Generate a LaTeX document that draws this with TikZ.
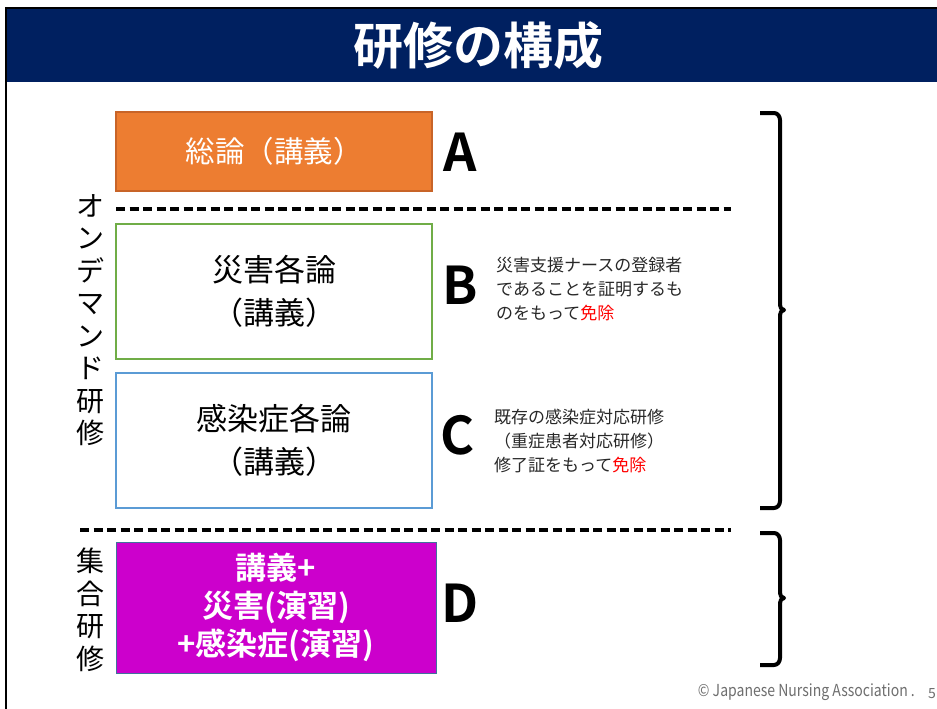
\documentclass[tikz,border=0pt]{standalone}
\usepackage{fontspec}
\setmainfont{Noto Sans CJK JP}[BoldFont={Noto Sans CJK JP Bold}]
\definecolor{navy}{RGB}{0,32,96}
\definecolor{aorange}{RGB}{237,125,49}
\definecolor{aorangeb}{RGB}{200,100,40}
\definecolor{bgreen}{RGB}{112,173,71}
\definecolor{cblue}{RGB}{91,155,213}
\definecolor{dmag}{RGB}{204,0,204}
\definecolor{dborder}{RGB}{65,113,156}
\definecolor{cgray}{RGB}{110,110,110}
\definecolor{sidetext}{RGB}{40,40,40}
\definecolor{mred}{RGB}{255,0,0}
\tikzset{
  box/.style={draw, line width=1.2pt, minimum width=316pt, align=center, inner sep=0pt},
  letter/.style={font=\fontsize{52}{52}\selectfont\bfseries, inner sep=0pt, text=black},
  side/.style={font=\fontsize{17}{24}\selectfont, align=left, anchor=west, inner sep=0pt, text=sidetext},
  vtext/.style={font=\fontsize{28}{32.5}\selectfont, align=center, inner sep=0pt},
  sep/.style={line width=3.5pt, dash pattern=on 9pt off 4.5pt},
  brace/.style={line width=4pt, line join=round},
}
\begin{document}
\begin{tikzpicture}[x=1pt,y=-1pt]
\useasboundingbox (0,0) rectangle (937,709);
\fill[white] (0,0) rectangle (937,709);
% title bar
\fill[navy] (6,9) rectangle (937,82);
\draw[black, line width=2pt] (6,709) -- (6,8) -- (937,8);
\node[text=white, font=\fontsize{50}{50}\selectfont\bfseries, inner sep=0pt] (title) at (478,46) {研修の構成};
% boxes
\node[box, draw=aorangeb, fill=aorange, minimum height=79pt, text=white, font=\fontsize{29.5}{34}\selectfont] (A) at (274,151.5) {総論（講義）};
\node[box, draw=bgreen, minimum height=135pt, font=\fontsize{31}{43}\selectfont] (B) at (274,291.5) {災害各論\\（講義）};
\node[box, draw=cblue, minimum height=135pt, font=\fontsize{31}{43}\selectfont] (C) at (274,440.5) {感染症各論\\（講義）};
\node[box, draw=dborder, line width=1pt, fill=dmag, minimum width=320pt, minimum height=131pt, text=white, font=\fontsize{31}{38}\selectfont\bfseries] (D) at (276,607.5) {講義+\\災害(演習)\\+感染症(演習)};
% letters
\node[letter] (la) at (460,152) {A};
\node[letter] (lb) at (460,285) {B};
\node[letter] (lc) at (458,435) {C};
\node[letter] (ld) at (460,603) {D};
% side notes
\node[side] (nb) at (496,289) {災害支援ナースの登録者\\であることを証明するも\\のをもって\textcolor{mred}{免除}};
\node[side] (nc) at (494,441) {既存の感染症対応研修\\（重症患者対応研修）\\修了証をもって\textcolor{mred}{免除}};
% vertical labels
\node[vtext] (ondemand) at (90,320) {オ\\ン\\デ\\マ\\ン\\ド\\研\\修};
\node[vtext] (shugo) at (90,610) {集\\合\\研\\修};
% dashed separators
\coordinate (s1a) at (116,209); \coordinate (s1b) at (731,209);
\coordinate (s2a) at (80,530);  \coordinate (s2b) at (731,530);
\draw[sep] (s1a) -- (s1b);
\draw[sep] (s2a) -- (s2b);
% braces
\draw[brace] (760,113) -- (774,113) to[out=0,in=90] (780,120) -- (780,305) to[out=270,in=180] (784,310) to[out=180,in=90] (780,315) -- (780,501) to[out=270,in=0] (774,508) -- (760,508);
\draw[brace] (760,533) -- (774,533) to[out=0,in=90] (780,540) -- (780,593) to[out=270,in=180] (784,598) to[out=180,in=90] (780,603) -- (780,658) to[out=270,in=0] (774,665) -- (760,665);
% footer
\node[text=cgray, font=\fontsize{16.5}{16.5}\selectfont, inner sep=0pt, anchor=east, xscale=0.85] (copy) at (915,692) {© Japanese Nursing Association .};
\node[text=cgray, font=\fontsize{14}{14}\selectfont, inner sep=0pt] (page) at (932,694) {5};
\end{tikzpicture}
\end{document}
